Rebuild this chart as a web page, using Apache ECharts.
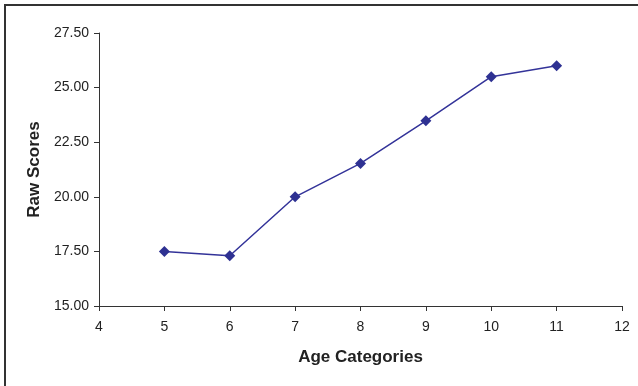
<!DOCTYPE html>
<html>
<head>
<meta charset="utf-8">
<script src="https://cdn.jsdelivr.net/npm/echarts@6/dist/echarts.min.js"></script>
<style>
html,body{margin:0;padding:0;background:#fff;}
#wrap{position:relative;width:638px;height:386px;overflow:hidden;}
#border{position:absolute;left:4px;top:4px;width:640px;height:400px;border-left:2px solid #333;border-top:2px solid #333;box-sizing:border-box;}
#chart{position:absolute;left:0;top:0;width:638px;height:386px;}
</style>
</head>
<body>
<div id="wrap"><div id="border"></div><div id="chart"></div></div>
<script>
var ages = [5, 6, 7, 8, 9, 10, 11];
var scores = [17.5, 17.3, 20.0, 21.53, 23.48, 25.5, 26.0];
var xTitle = 'Age Categories';
var yTitle = 'Raw Scores';

var chart = echarts.init(document.getElementById('chart'));
var font = 'Arial, "Liberation Sans", sans-serif';
chart.setOption({
  animation: false,
  grid: {left: 99, right: 16, top: 33, bottom: 80, containLabel: false},
  xAxis: {
    type: 'value', min: 4, max: 12, interval: 1,
    name: xTitle, nameLocation: 'middle', nameGap: 43,
    nameTextStyle: {fontFamily: font, fontWeight: 'bold', fontSize: 17, color: '#222'},
    axisLine: {lineStyle: {color: '#333', width: 1}},
    axisTick: {show: true, length: 5, lineStyle: {color: '#333'}},
    axisLabel: {fontFamily: font, fontSize: 14, color: '#222', margin: 14},
    splitLine: {show: false}
  },
  yAxis: {
    type: 'value', min: 15, max: 27.5, interval: 2.5,
    name: yTitle, nameLocation: 'middle', nameGap: 54,
    nameTextStyle: {fontFamily: font, fontWeight: 'bold', fontSize: 17, color: '#222'},
    axisLine: {show: true, lineStyle: {color: '#333', width: 1}},
    axisTick: {show: true, length: 5, lineStyle: {color: '#333'}},
    axisLabel: {fontFamily: font, fontSize: 14, color: '#222', margin: 10,
      formatter: function (v) { return v.toFixed(2); }},
    splitLine: {show: false}
  },
  series: [{
    type: 'line',
    data: ages.map(function (a, i) { return [a, scores[i]]; }),
    symbol: 'diamond', symbolSize: 11,
    lineStyle: {color: '#333399', width: 1.5},
    itemStyle: {color: '#2e3192'}
  }]
});
</script>
</body>
</html>
